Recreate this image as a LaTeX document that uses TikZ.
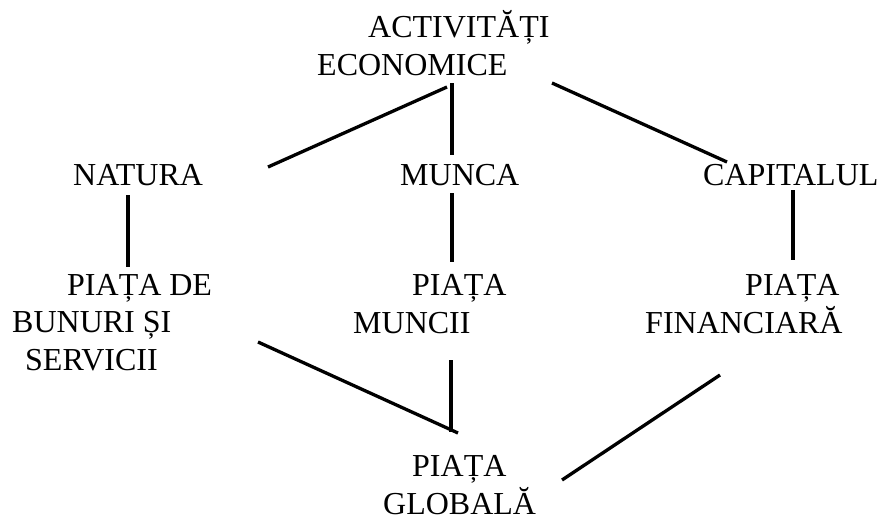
\documentclass[tikz,border=0pt]{standalone}
\usepackage{fontspec}
\setmainfont{Liberation Serif}

\begin{document}
\begin{tikzpicture}[x=1pt, y=-1pt,
	lbl/.style={inner sep=0pt, anchor=base west, align=left, font=\fontsize{32}{37.5}\selectfont},
	conn/.style={line width=3.3pt}]
	\useasboundingbox (0,0) rectangle (882,517);
	\node[lbl] (econ) at (317,75) {\hspace*{51pt}ACTIVITĂȚI\\ECONOMICE};
	\node[lbl] (natura) at (73,185) {NATURA};
	\node[lbl] (munca) at (400,185) {MUNCA};
	\node[lbl] (capital) at (703,185) {CAPITALUL};
	\node[lbl] (pbunuri) at (12,370) {\hspace*{55pt}PIAȚA DE\\BUNURI ȘI\\\hspace*{13pt}SERVICII};
	\node[lbl] (pmuncii) at (353,333) {\hspace*{59pt}PIAȚA\\MUNCII};
	\node[lbl] (pfin) at (645,333) {\hspace*{100pt}PIAȚA\\FINANCIARĂ};
	\node[lbl] (pglob) at (383,514) {\hspace*{29pt}PIAȚA\\GLOBALĂ};
	\coordinate (e-n) at (447,87);
	\coordinate (e-m) at (452,83);
	\coordinate (e-c) at (552,83);
	\coordinate (n-e) at (268,167);
	\coordinate (m-e) at (452,155);
	\coordinate (c-e) at (727,162);
	\coordinate (n-p) at (128,195);
	\coordinate (m-p) at (452,193);
	\coordinate (c-p) at (793,190);
	\coordinate (pb-n) at (128,267);
	\coordinate (pm-m) at (452,262);
	\coordinate (pf-c) at (793,260);
	\coordinate (pb-g) at (258,342);
	\coordinate (pm-g) at (451,360);
	\coordinate (pf-g) at (720,375);
	\coordinate (g-b) at (458,433);
	\coordinate (g-m) at (451,432);
	\coordinate (g-f) at (562,480);
	\draw[conn] (e-n) -- (n-e);
	\draw[conn] (e-m) -- (m-e);
	\draw[conn] (e-c) -- (c-e);
	\draw[conn] (n-p) -- (pb-n);
	\draw[conn] (m-p) -- (pm-m);
	\draw[conn] (c-p) -- (pf-c);
	\draw[conn] (pb-g) -- (g-b);
	\draw[conn] (pm-g) -- (g-m);
	\draw[conn] (pf-g) -- (g-f);
\end{tikzpicture}
\end{document}
